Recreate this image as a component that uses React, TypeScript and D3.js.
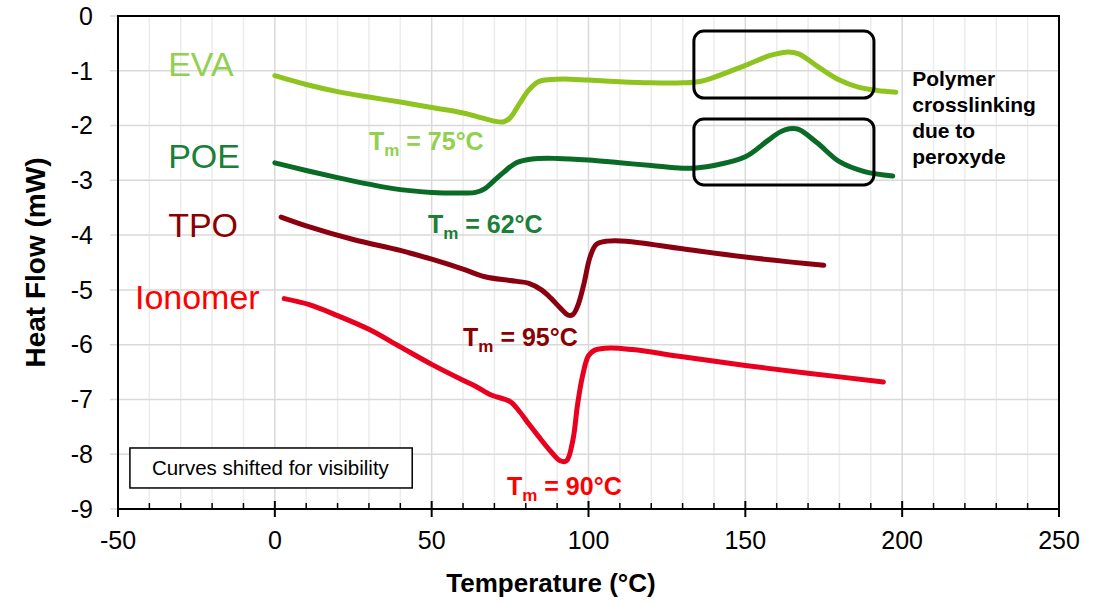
import * as d3 from 'd3';

// temperatures (°C) and heat flow (mW) for each curve, shifted as in the original
const evaT = [0, 10, 20, 30, 40, 50, 60, 66, 70, 73, 75, 78, 81, 84, 88, 92, 100, 110, 120, 130, 135, 140, 150, 158, 163, 167, 173, 180, 186, 192, 198];
const evaHF = [-1.09, -1.25, -1.38, -1.48, -1.57, -1.67, -1.77, -1.86, -1.92, -1.93, -1.86, -1.6, -1.35, -1.2, -1.16, -1.15, -1.17, -1.2, -1.22, -1.22, -1.2, -1.12, -0.9, -0.72, -0.66, -0.69, -0.92, -1.17, -1.3, -1.36, -1.39];

const poeT = [0, 10, 20, 30, 40, 50, 60, 64, 67, 70, 73, 77, 82, 90, 100, 110, 120, 130, 135, 140, 150, 157, 161, 164, 167, 173, 180, 188, 197];
const poeHF = [-2.68, -2.82, -2.95, -3.07, -3.17, -3.22, -3.23, -3.22, -3.15, -3.0, -2.85, -2.68, -2.61, -2.6, -2.63, -2.68, -2.73, -2.78, -2.77, -2.73, -2.57, -2.28, -2.12, -2.06, -2.07, -2.32, -2.66, -2.84, -2.92];

const tpoT = [2, 10, 25, 40, 50, 60, 67, 75, 81, 85, 88, 91, 93.5, 95, 96.5, 98.5, 100.5, 102.5, 106, 112, 130, 150, 175];
const tpoHF = [-3.67, -3.83, -4.08, -4.28, -4.44, -4.62, -4.76, -4.83, -4.88, -5.0, -5.15, -5.33, -5.46, -5.45, -5.3, -4.9, -4.4, -4.17, -4.11, -4.11, -4.25, -4.4, -4.55];

const ionT = [3, 11, 20, 30, 40, 50, 60, 64, 69, 75, 78, 81, 84, 88, 91, 93, 95, 96.5, 98, 100, 102, 107, 114, 130, 150, 170, 194];
const ionHF = [-5.16, -5.27, -5.47, -5.72, -6.04, -6.36, -6.65, -6.76, -6.92, -7.04, -7.22, -7.45, -7.67, -7.95, -8.12, -8.12, -7.75, -7.1, -6.6, -6.2, -6.1, -6.06, -6.09, -6.22, -6.38, -6.52, -6.68];

const xTicks = [-50, 0, 50, 100, 150, 200, 250];
const yTicks = [0, -1, -2, -3, -4, -5, -6, -7, -8, -9];

const series = [
  { name: 'EVA', t: evaT, hf: evaHF, line: '#8fc31f', text: '#92d050', lx: -34, ly: -1.095 },
  { name: 'POE', t: poeT, hf: poeHF, line: '#0a6b26', text: '#1a7f37', lx: -34, ly: -2.775 },
  { name: 'TPO', t: tpoT, hf: tpoHF, line: '#8b0010', text: '#8b0000', lx: -34, ly: -4.03 },
  { name: 'Ionomer', t: ionT, hf: ionHF, line: '#e8001e', text: '#ff0000', lx: -44.6, ly: -5.35 },
];

// melting temperature annotations: [label, temperature, heat flow, colour]
const tmLabels: [string, number, number, string][] = [
  ['75°C', 30, -2.45, '#92d050'],
  ['62°C', 48.8, -3.96, '#1a7f37'],
  ['95°C', 60, -6.02, '#8b0000'],
  ['90°C', 74, -8.74, '#ff0000'],
];

const crosslinkText = ['Polymer', 'crosslinking', 'due to', 'peroxyde'];

const W = 1101;
const H = 602;
const font = 'Arial, "Liberation Sans", sans-serif';

export default function App() {
  const x = d3.scaleLinear().domain([-50, 250]).range([118, 1059]);
  const y = d3.scaleLinear().domain([-9, 0]).range([509, 16]);

  const line = d3
    .line<[number, number]>()
    .x(d => x(d[0]))
    .y(d => y(d[1]))
    .curve(d3.curveCatmullRom.alpha(0.5));

  const minorX = d3.range(-50, 251, 10).filter(v => v % 50 !== 0);

  const box = (x0: number, x1: number, y0: number, y1: number) => ({
    x: x(x0),
    y: y(y0),
    w: x(x1) - x(x0),
    h: y(y1) - y(y0),
  });
  const b1 = box(133.6, 191, -0.274, -1.497);
  const b2 = box(133.6, 191, -1.88, -3.085);
  const note = box(-46.2, 43.8, -7.886, -8.616);

  return (
    <svg width={W} height={H} style={{ position: 'absolute', left: 0, top: 0, background: '#fff' }} fontFamily={font}>
      {/* grid */}
      {minorX.map(v => (
        <line key={'mx' + v} x1={x(v)} x2={x(v)} y1={y(0)} y2={y(-9)} stroke="#ececec" strokeWidth={1.5} />
      ))}
      {xTicks.map(v => (
        <line key={'gx' + v} x1={x(v)} x2={x(v)} y1={y(0)} y2={y(-9)} stroke="#d9d9d9" strokeWidth={1.5} />
      ))}
      {yTicks.map(v => (
        <line key={'gy' + v} x1={x(-50) - 8} x2={x(250)} y1={y(v)} y2={y(v)} stroke="#d9d9d9" strokeWidth={1.5} />
      ))}

      {/* frame and ticks */}
      <rect x={x(-50)} y={y(0)} width={x(250) - x(-50)} height={y(-9) - y(0)} fill="none" stroke="#000" strokeWidth={2} />
      {minorX.map(v => (
        <line key={'tx' + v} x1={x(v)} x2={x(v)} y1={y(-9)} y2={y(-9) - 6} stroke="#000" strokeWidth={1.5} />
      ))}
      {xTicks.map(v => (
        <line key={'Tx' + v} x1={x(v)} x2={x(v)} y1={y(-9) - 8} y2={y(-9) + 8} stroke="#000" strokeWidth={2} />
      ))}

      {/* tick labels */}
      {xTicks.map(v => (
        <text key={'lx' + v} x={x(v)} y={549} textAnchor="middle" fontSize={25} fill="#000">
          {v}
        </text>
      ))}
      {yTicks.map(v => (
        <text key={'ly' + v} x={93} y={y(v)} dy="0.35em" textAnchor="end" fontSize={25} fill="#000">
          {v}
        </text>
      ))}

      {/* axis titles */}
      <text x={551} y={592} textAnchor="middle" fontSize={26} fontWeight="bold">
        Temperature (°C)
      </text>
      <text transform={`translate(45, ${y(-4.5)}) rotate(-90)`} textAnchor="middle" fontSize={28} fontWeight="bold">
        Heat Flow (mW)
      </text>

      {/* curves */}
      {series.map(s => (
        <path
          key={s.name}
          d={line(s.t.map((t, i) => [t, s.hf[i]] as [number, number])) || ''}
          fill="none"
          stroke={s.line}
          strokeWidth={5}
          strokeLinecap="round"
          strokeLinejoin="round"
        />
      ))}

      {/* series names */}
      {series.map(s => (
        <text key={'n' + s.name} x={x(s.lx)} y={y(s.ly)} fontSize={34} fill={s.text}>
          {s.name}
        </text>
      ))}

      {/* Tm labels */}
      {tmLabels.map(([lab, t, hf, c]) => (
        <text key={lab} x={x(t)} y={y(hf)} fontSize={25} fontWeight="bold" fill={c}>
          T
          <tspan fontSize={17} dy={6}>
            m
          </tspan>
          <tspan dy={-6}>{' = ' + lab}</tspan>
        </text>
      ))}

      {/* crosslinking boxes */}
      {[b1, b2].map((b, i) => (
        <rect key={'b' + i} x={b.x} y={b.y} width={b.w} height={b.h} rx={10} ry={10} fill="none" stroke="#000" strokeWidth={3} />
      ))}
      {crosslinkText.map((s, i) => (
        <text key={s} x={x(203.2)} y={y(-1.278) + i * 26} fontSize={21} fontWeight="bold" fill="#000">
          {s}
        </text>
      ))}

      {/* note box */}
      <rect x={note.x} y={note.y} width={note.w} height={note.h} fill="#fff" stroke="#000" strokeWidth={1.5} />
      <text x={note.x + 22} y={note.y + 27} fontSize={20.5} fill="#000">
        Curves shifted for visibility
      </text>
    </svg>
  );
}
